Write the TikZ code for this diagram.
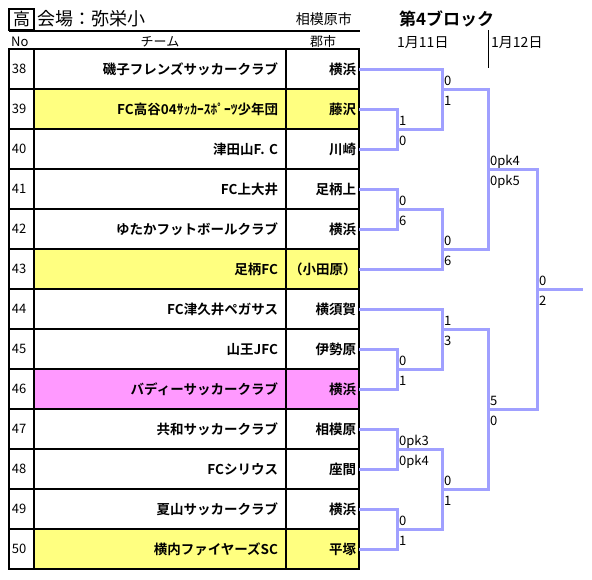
\documentclass[tikz,border=0pt]{standalone}
\usepackage{fontspec}
\setmainfont{Noto Sans CJK JP}[BoldFont={Noto Sans CJK JP Bold}]
\usetikzlibrary{positioning}
\definecolor{lemon}{HTML}{FFFF80}
\definecolor{orchid}{HTML}{FF99FF}
\definecolor{lilac}{HTML}{A0A0FF}
\tikzset{cell/.style={draw=black,line width=1.2pt,minimum height=40pt,inner ysep=0pt,outer sep=0pt},
  num/.style={cell,inner xsep=3pt,text width=19pt,align=left,font=\fontsize{13}{15}\selectfont},
  team/.style={cell,inner xsep=8pt,text width=236pt,align=right,font=\bfseries\fontsize{13.5}{15}\selectfont},
  city/.style={cell,inner xsep=3pt,text width=67pt,align=right,font=\bfseries\fontsize{13.5}{15}\selectfont},
  head/.style={inner sep=0pt,font=\fontsize{13}{15}\selectfont},
  link/.style={draw=lilac,line width=3pt},
  score/.style={inner sep=0pt,font=\fontsize{13}{15}\selectfont}}

\begin{document}
\begin{tikzpicture}[x=1pt,y=-1pt,node distance=0pt]
\useasboundingbox (0,0) rectangle (592,579);
% header
\node[draw,line width=1.2pt,minimum width=25pt,minimum height=21pt,inner sep=0pt,font=\fontsize{17}{19}\selectfont] (kou) at (21.5,19.5) {高};
\node[anchor=west,inner sep=0pt,font=\fontsize{18}{20}\selectfont] (venue) at (37,19) {会場：弥栄小};
\node[head,anchor=east,font=\fontsize{14}{16}\selectfont] (home) at (352,19) {相模原市};
\node[anchor=west,inner sep=0pt,font=\bfseries\fontsize{17}{19}\selectfont] (block) at (399,19) {第4ブロック};
\draw[line width=1.2pt] (9,31) -- (360,31);
\node[head,anchor=west] (hno) at (11,42) {No};
\node[head] (hteam) at (160,42) {チーム};
\node[head] (hcity) at (323,42) {郡市};
\node[head,anchor=west,font=\fontsize{14}{16}\selectfont] (day1) at (397,43) {1月11日};
\node[head,anchor=west,font=\fontsize{14}{16}\selectfont] (day2) at (491,43) {1月12日};
\draw[line width=1pt] (488,30) -- (488,68);

% teams
\node[num,anchor=north west] (n38) at (9,49) {38};
\node[team,right=of n38] (t38) {磯子フレンズサッカークラブ};
\node[city,right=of t38] (c38) {横浜};
\node[num,below=of n38] (n39) {39};
\node[team,fill=lemon,right=of n39] (t39) {FC高谷04ｻｯｶｰｽﾎﾟｰﾂ少年団};
\node[city,fill=lemon,right=of t39] (c39) {藤沢};
\node[num,below=of n39] (n40) {40};
\node[team,right=of n40] (t40) {津田山F. C};
\node[city,right=of t40] (c40) {川崎};
\node[num,below=of n40] (n41) {41};
\node[team,right=of n41] (t41) {FC上大井};
\node[city,right=of t41] (c41) {足柄上};
\node[num,below=of n41] (n42) {42};
\node[team,right=of n42] (t42) {ゆたかフットボールクラブ};
\node[city,right=of t42] (c42) {横浜};
\node[num,below=of n42] (n43) {43};
\node[team,fill=lemon,right=of n43] (t43) {足柄FC};
\node[city,fill=lemon,right=of t43] (c43) {（小田原）};
\node[num,below=of n43] (n44) {44};
\node[team,right=of n44] (t44) {FC津久井ペガサス};
\node[city,right=of t44] (c44) {横須賀};
\node[num,below=of n44] (n45) {45};
\node[team,right=of n45] (t45) {山王JFC};
\node[city,right=of t45] (c45) {伊勢原};
\node[num,below=of n45] (n46) {46};
\node[team,fill=orchid,right=of n46] (t46) {バディーサッカークラブ};
\node[city,fill=orchid,right=of t46] (c46) {横浜};
\node[num,below=of n46] (n47) {47};
\node[team,right=of n47] (t47) {共和サッカークラブ};
\node[city,right=of t47] (c47) {相模原};
\node[num,below=of n47] (n48) {48};
\node[team,right=of n48] (t48) {FCシリウス};
\node[city,right=of t48] (c48) {座間};
\node[num,below=of n48] (n49) {49};
\node[team,right=of n49] (t49) {夏山サッカークラブ};
\node[city,right=of t49] (c49) {横浜};
\node[num,below=of n49] (n50) {50};
\node[team,fill=lemon,right=of n50] (t50) {横内ファイヤーズSC};
\node[city,fill=lemon,right=of t50] (c50) {平塚};

% bracket joints
\coordinate (j1) at (397,129);
\coordinate (j2) at (397,209);
\coordinate (j3) at (397,369);
\coordinate (j4) at (397,449);
\coordinate (j5) at (397,529);
\coordinate (k1) at (442,89);
\coordinate (k2) at (442,249);
\coordinate (k3) at (442,329);
\coordinate (k4) at (442,489);
\coordinate (m1) at (488,169);
\coordinate (m2) at (488,409);
\coordinate (f) at (537,289);
\coordinate (champ) at (583,289);

\draw[link] (c39.east) -| (j1) |- (c40.east);
\draw[link] (c41.east) -| (j2) |- (c42.east);
\draw[link] (c45.east) -| (j3) |- (c46.east);
\draw[link] (c47.east) -| (j4) |- (c48.east);
\draw[link] (c49.east) -| (j5) |- (c50.east);
\draw[link] (c38.east) -| (k1) |- (j1);
\draw[link] (j2) -| (k2) |- (c43.east);
\draw[link] (c44.east) -| (k3) |- (j3);
\draw[link] (j4) -| (k4) |- (j5);
\draw[link] (k1) -| (m1) |- (k2);
\draw[link] (k3) -| (m2) |- (k4);
\draw[link] (m1) -| (f) |- (m2);
\draw[link] (f) -- (champ);

% scores
\node[score,anchor=base west] (j1a) at ([shift={(2,-4)}]j1) {1};
\node[score,anchor=base west] (j1b) at ([shift={(2,16)}]j1) {0};
\node[score,anchor=base west] (j2a) at ([shift={(2,-4)}]j2) {0};
\node[score,anchor=base west] (j2b) at ([shift={(2,16)}]j2) {6};
\node[score,anchor=base west] (j3a) at ([shift={(2,-4)}]j3) {0};
\node[score,anchor=base west] (j3b) at ([shift={(2,16)}]j3) {1};
\node[score,anchor=base west] (j4a) at ([shift={(2,-4)}]j4) {0pk3};
\node[score,anchor=base west] (j4b) at ([shift={(2,16)}]j4) {0pk4};
\node[score,anchor=base west] (j5a) at ([shift={(2,-4)}]j5) {0};
\node[score,anchor=base west] (j5b) at ([shift={(2,16)}]j5) {1};
\node[score,anchor=base west] (k1a) at ([shift={(2,-4)}]k1) {0};
\node[score,anchor=base west] (k1b) at ([shift={(2,16)}]k1) {1};
\node[score,anchor=base west] (k2a) at ([shift={(2,-4)}]k2) {0};
\node[score,anchor=base west] (k2b) at ([shift={(2,16)}]k2) {6};
\node[score,anchor=base west] (k3a) at ([shift={(2,-4)}]k3) {1};
\node[score,anchor=base west] (k3b) at ([shift={(2,16)}]k3) {3};
\node[score,anchor=base west] (k4a) at ([shift={(2,-4)}]k4) {0};
\node[score,anchor=base west] (k4b) at ([shift={(2,16)}]k4) {1};
\node[score,anchor=base west] (m1a) at ([shift={(2,-4)}]m1) {0pk4};
\node[score,anchor=base west] (m1b) at ([shift={(2,16)}]m1) {0pk5};
\node[score,anchor=base west] (m2a) at ([shift={(2,-4)}]m2) {5};
\node[score,anchor=base west] (m2b) at ([shift={(2,16)}]m2) {0};
\node[score,anchor=base west] (fa) at ([shift={(2,-4)}]f) {0};
\node[score,anchor=base west] (fb) at ([shift={(2,16)}]f) {2};
\end{tikzpicture}
\end{document}
